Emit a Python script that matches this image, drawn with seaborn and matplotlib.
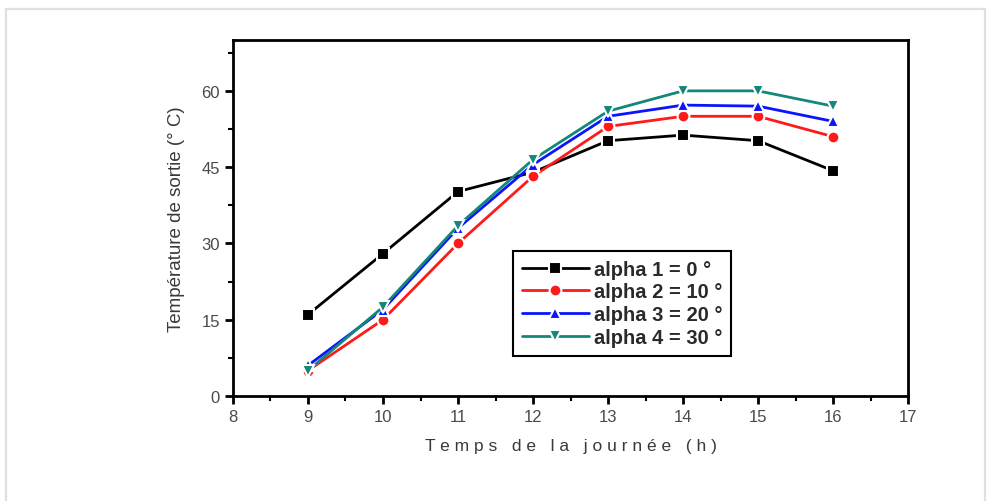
import matplotlib
matplotlib.use("Agg")
import matplotlib.pyplot as plt
from matplotlib.patches import Rectangle
from matplotlib.ticker import MultipleLocator
import pandas as pd
import seaborn as sns

# Hour of the day
hours = [9, 10, 11, 12, 13, 14, 15, 16]

# Outlet temperature (°C) for each tilt angle
temp_alpha1 = [16.0, 28.0, 40.2, 44.0, 50.2, 51.3, 50.2, 44.3]
temp_alpha2 = [5.0, 15.0, 30.0, 43.2, 53.0, 55.0, 55.0, 51.0]
temp_alpha3 = [6.0, 17.0, 33.0, 45.5, 55.0, 57.2, 57.0, 54.0]
temp_alpha4 = [5.0, 17.5, 33.5, 46.5, 56.0, 60.0, 60.0, 57.0]

series_labels = ["alpha 1 = 0 °", "alpha 2 = 10 °", "alpha 3 = 20 °", "alpha 4 = 30 °"]
series_values = [temp_alpha1, temp_alpha2, temp_alpha3, temp_alpha4]
colors = ["#000000", "#ff1a1a", "#0a14ff", "#13877a"]
markers = ["s", "o", "^", "v"]

df = pd.DataFrame(
    [(h, v, lab) for lab, vals in zip(series_labels, series_values) for h, v in zip(hours, vals)],
    columns=["hour", "temp", "serie"],
)

sns.set_theme(style="white")
plt.rcParams["font.family"] = ["Liberation Sans", "DejaVu Sans"]

fig = plt.figure(figsize=(9.94, 5.02), dpi=100)
fig.patch.set_facecolor("white")
# faint outer frame around the figure
fig.patches.append(Rectangle((0.006, -0.05), 0.985, 1.03, transform=fig.transFigure,
                             fill=False, edgecolor="#e0e0e0", linewidth=1.6))

ax = fig.add_axes([0.2344, 0.2092, 0.6791, 0.7091])

sns.lineplot(data=df, x="hour", y="temp", hue="serie", style="serie",
             hue_order=series_labels, style_order=series_labels,
             palette=colors, markers=markers, dashes=False,
             linewidth=2.0, markersize=8.5, markeredgewidth=1.5,
             markeredgecolor="white",
             ax=ax)

ax.set_xlim(8, 17)
ax.set_ylim(0, 70)
ax.xaxis.set_major_locator(MultipleLocator(1))
ax.xaxis.set_minor_locator(MultipleLocator(0.5))
ax.yaxis.set_major_locator(MultipleLocator(15))
ax.yaxis.set_minor_locator(MultipleLocator(7.5))
ax.set_yticks([0, 15, 30, 45, 60])

for sp in ax.spines.values():
    sp.set_visible(True)
    sp.set_color("black")
    sp.set_linewidth(2.0)

ax.tick_params(axis="both", which="major", direction="out", length=6, width=2,
               colors="black", labelcolor="#4a4a4a", labelsize=12,
               bottom=True, left=True, top=False, right=False)
ax.tick_params(axis="both", which="minor", direction="out", length=3.5, width=1.5,
               colors="black", bottom=True, left=True, top=False, right=False)

ax.set_xlabel("T e m p s   d e   l a   j o u r n é e   ( h )", fontsize=12.5,
              color="#3a3a3a", labelpad=10)
ax.set_ylabel("Température de sortie (° C)", fontsize=13.5, color="#3a3a3a", labelpad=12)

handles, labels = ax.get_legend_handles_labels()
leg = ax.legend(handles, labels, loc="lower left", bbox_to_anchor=(0.40, 0.085),
                frameon=True, fancybox=False, edgecolor="black", framealpha=1,
                prop={"weight": "bold", "size": 14.5}, handlelength=3.3,
                handletextpad=0.25, borderpad=0.45, labelspacing=0.18)
leg.get_frame().set_linewidth(1.5)
for t in leg.get_texts():
    t.set_color("#2a2a2a")

fig.savefig("out.png", dpi=100, facecolor="white")
